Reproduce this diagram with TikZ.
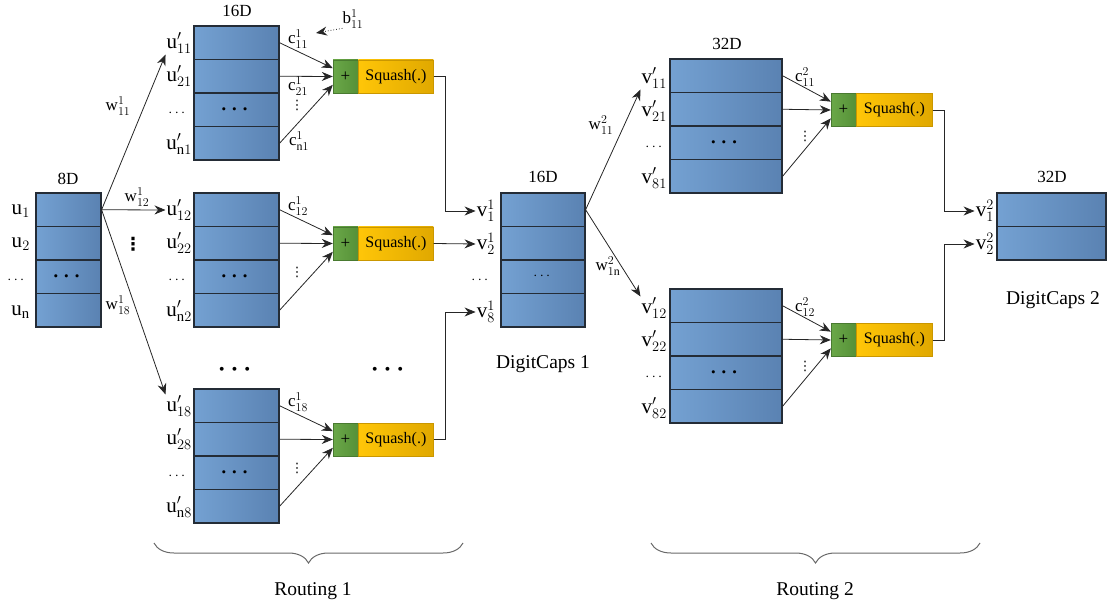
\documentclass[tikz,border=0pt]{standalone}
\usepackage{fontspec}
\setmainfont{Liberation Serif}
\newfontfamily\symfont{DejaVu Sans}
\usepackage{amsmath}
\usepackage{xcolor}
\usetikzlibrary{arrows.meta}
\usetikzlibrary{calc}
\usetikzlibrary{decorations.pathreplacing}
\definecolor{capslight}{RGB}{116,161,210}
\definecolor{capsdark}{RGB}{90,130,178}
\definecolor{capsline}{RGB}{36,44,54}
\definecolor{sumlight}{RGB}{106,168,72}
\definecolor{sumdark}{RGB}{86,144,56}
\definecolor{sqlight}{RGB}{255,198,8}
\definecolor{sqdark}{RGB}{224,168,0}
\definecolor{bracegray}{RGB}{105,105,105}
\newcommand{\rowdots}{\fontsize{22}{22}\selectfont$\boldsymbol{\cdots}$}
\tikzset{capsrow/.style={draw=capsline,line width=1.2pt,left color=capslight,right color=capsdark,
   minimum height=33.5pt,inner sep=0pt},
 sumbox/.style={draw=sumdark!85!black,line width=0.4pt,left color=sumlight,right color=sumdark,
   minimum width=25pt,minimum height=33pt,inner sep=0pt,font=\fontsize{17}{17}\selectfont},
 squashbox/.style={draw=sqdark!90!black,line width=0.4pt,left color=sqlight,right color=sqdark,
   minimum height=33pt,inner sep=0pt,font=\fontsize{16}{16}\selectfont},
 lbl/.style={font=\fontsize{21}{21}\selectfont,inner sep=1pt},
 coef/.style={font=\fontsize{17}{17}\selectfont,inner sep=0pt},
 dimtxt/.style={font=\fontsize{17}{17}\selectfont},
 captxt/.style={font=\fontsize{19.5}{19.5}\selectfont},
 sidedots/.style={font=\fontsize{15}{15}\selectfont,inner sep=0pt},
 vdotstxt/.style={font=\symfont\fontsize{13}{13}\selectfont,inner sep=0pt},
 bigdots/.style={font=\fontsize{28}{28}\selectfont,inner sep=0pt},
 link/.style={-{Stealth[length=11pt,width=9pt]},line width=0.8pt,draw=black!85},
 brace/.style={decorate,decoration={brace,amplitude=20pt,mirror},draw=bracegray,line width=1pt},
 }

\begin{document}
\begin{tikzpicture}[x=1pt,y=-1pt]
\useasboundingbox (0,0) rectangle (1107,609);

% 8D input capsules
\node[dimtxt] (d8) at (68,179) {8D};
\foreach \i/\txt in {1/{},2/{},3/\rowdots,4/{}}
  \node[capsrow,minimum width=65pt] (u\i) at (68.5,176.25+33.5*\i) {\txt};
\node[lbl,anchor=east] (lu1) at (31,211) {$\mathrm{u}_1$};
\node[lbl,anchor=east] (lu2) at (31,244) {$\mathrm{u}_2$};
\node[sidedots] (lud) at (17,280) {$\cdots$};
\node[lbl,anchor=east] (lun) at (31,312) {$\mathrm{u}_\mathrm{n}$};

% routing 1
\node[dimtxt] (d16a) at (237,11) {16D};
\foreach \blk/\top in {1/26,2/193,8/389} {
  \foreach \i/\txt in {1/{},2/{},3/\rowdots,4/{}}
    \node[capsrow,minimum width=85pt] (p\blk r\i) at (236.5,\top+33.5*\i-16.75) {\txt};
  \node[lbl,anchor=east] (lp1\blk) at (193,\top+17) {$\mathrm{u}'_{1\blk}$};
  \node[lbl,anchor=east] (lp2\blk) at (193,\top+50) {$\mathrm{u}'_{2\blk}$};
  \node[sidedots] (lpd\blk) at (178,\top+87) {$\cdots$};
  \node[lbl,anchor=east] (lpn\blk) at (193,\top+118) {$\mathrm{u}'_{\mathrm{n}\blk}$};
  \node[sumbox] (s\blk p) at (345.5,\top+50.5) {+};
  \node[squashbox,minimum width=75pt,anchor=west] (s\blk q) at (s\blk p.east) {Squash(.)};
  \draw[link] (p\blk r1.east) -- ($(s\blk p.west)!.5!(s\blk p.north west)$);
  \draw[link] (p\blk r2.east) -- (s\blk p.west);
  \draw[link] (p\blk r4.east) -- ($(s\blk p.west)!.5!(s\blk p.south west)$);
  \node[coef] (c1\blk) at (298,\top+13) {$\mathrm{c}^1_{1\blk}$};
  \node[vdotstxt] (cd\blk) at (297,\top+79) {⋮};
}
\node[coef] (c21) at (298,86) {$\mathrm{c}^1_{21}$};
\node[coef] (cn1) at (299,141) {$\mathrm{c}^1_{\mathrm{n}1}$};
\node[coef] (b11) at (353,19) {$\mathrm{b}^1_{11}$};
\coordinate (btip) at (316,33);
\draw[link,dotted] (b11.south west) -- (btip);
\node[bigdots] (pdots) at (237,370) {$\boldsymbol{\cdots}$};
\node[bigdots] (sdots) at (390,370) {$\boldsymbol{\cdots}$};

\draw[link] (u1.east) -- (lp11.south west);
\draw[link] (u1.east) -- (lp12.west);
\draw[link] (u1.east) -- (lp18.north west);
\node[coef] (w11) at (118,106) {$\mathrm{w}^1_{11}$};
\node[coef] (w12) at (137,197) {$\mathrm{w}^1_{12}$};
\node[coef] (w18) at (118,305) {$\mathrm{w}^1_{18}$};
\node[font=\symfont\bfseries\fontsize{18}{18}\selectfont,inner sep=0pt] (wd) at (133,244) {⋮};

% DigitCaps 1
\node[dimtxt] (d16b) at (543,177) {16D};
\foreach \i/\txt in {1/{},2/{},3/{\fontsize{14}{14}\selectfont$\cdots$},4/{}}
  \node[capsrow,minimum width=84pt] (e\i) at (543,176.25+33.5*\i) {\txt};
\node[lbl,anchor=east] (lv1) at (496,211) {$\mathrm{v}^1_1$};
\node[lbl,anchor=east] (lv2) at (496,244) {$\mathrm{v}^1_2$};
\node[sidedots] (lvd) at (481,280) {$\cdots$};
\node[lbl,anchor=east] (lv8) at (496,312) {$\mathrm{v}^1_8$};
\node[captxt] (dc1) at (543,364) {DigitCaps 1};
\draw[link] (s1q.east) -- ++(12,0) |- (lv1.west);
\draw[link] (s2q.east) -- (lv2.west);
\draw[link] (s8q.east) -- ++(12,0) |- (lv8.west);

% routing 2
\node[dimtxt] (d32a) at (727,44) {32D};
\foreach \blk/\top in {1/59,2/289} {
  \foreach \i/\txt in {1/{},2/{},3/\rowdots,4/{}}
    \node[capsrow,minimum width=112pt] (q\blk r\i) at (726,\top+33.5*\i-16.75) {\txt};
  \node[lbl,anchor=east] (lq1\blk) at (668,\top+19) {$\mathrm{v}'_{1\blk}$};
  \node[lbl,anchor=east] (lq2\blk) at (668,\top+52) {$\mathrm{v}'_{2\blk}$};
  \node[sidedots] (lqd\blk) at (655,\top+88) {$\cdots$};
  \node[lbl,anchor=east] (lq8\blk) at (668,\top+119) {$\mathrm{v}'_{8\blk}$};
  \node[sumbox] (t\blk p) at (843.5,\top+51) {+};
  \node[squashbox,minimum width=76pt,anchor=west] (t\blk q) at (t\blk p.east) {Squash(.)};
  \draw[link] (q\blk r1.east) -- ($(t\blk p.west)!.5!(t\blk p.north west)$);
  \draw[link] (q\blk r2.east) -- (t\blk p.west);
  \draw[link] (q\blk r4.east) -- ($(t\blk p.west)!.5!(t\blk p.south west)$);
  \node[coef] (k1\blk) at (805,\top+18) {$\mathrm{c}^2_{1\blk}$};
  \node[vdotstxt] (kd\blk) at (805,\top+77) {⋮};
}
\draw[link] (e1.east) -- (lq11.south west);
\draw[link] (e1.east) -- (lq12.north west);
\node[coef] (w211) at (601,125) {$\mathrm{w}^2_{11}$};
\node[coef] (w21n) at (608,266) {$\mathrm{w}^2_{1\mathrm{n}}$};

% DigitCaps 2
\node[dimtxt] (d32b) at (1052,177) {32D};
\foreach \i in {1,2}
  \node[capsrow,minimum width=109pt] (f\i) at (1051.5,176.25+33.5*\i) {};
\node[lbl,anchor=east] (lw1) at (995,211) {$\mathrm{v}^2_1$};
\node[lbl,anchor=east] (lw2) at (995,244) {$\mathrm{v}^2_2$};
\node[captxt] (dc2) at (1053,300) {DigitCaps 2};
\draw[link] (t1q.east) -- ++(12,0) |- (lw1.west);
\draw[link] (t2q.east) -- ++(12,0) |- (lw2.west);

% braces
\draw[brace] (154,543) -- (463,543);
\draw[brace] (651,543) -- (980,543);
\node[captxt] (r1) at (313,591) {Routing 1};
\node[captxt] (r2) at (815,591) {Routing 2};
\end{tikzpicture}
\end{document}
